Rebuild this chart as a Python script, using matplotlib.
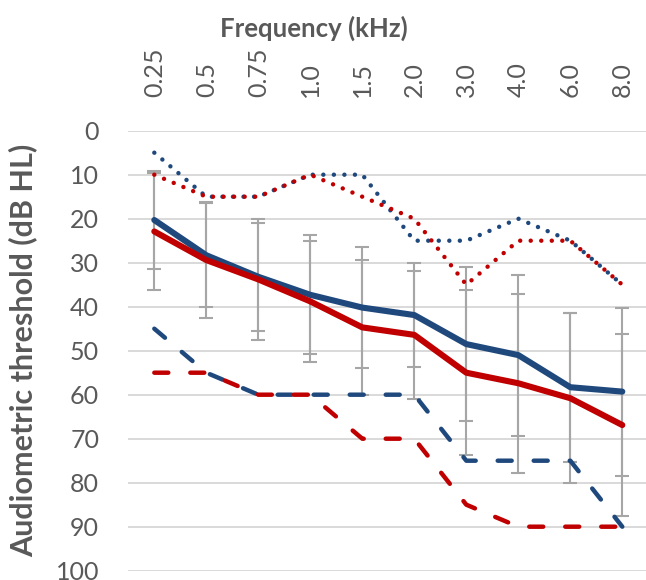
import matplotlib
matplotlib.use("Agg")
import matplotlib.pyplot as plt
import numpy as np

plt.rcParams['font.family'] = ['Lato', 'DejaVu Sans']

freq_labels = ['0.25', '0.5', '0.75', '1.0', '1.5', '2.0', '3.0', '4.0', '6.0', '8.0']
blue_mean = [20.3, 28.3, 33.2, 37.3, 40.2, 41.9, 48.5, 51.0, 58.3, 59.3]
red_mean = [22.9, 29.4, 33.8, 38.8, 44.7, 46.4, 55.0, 57.4, 60.8, 66.9]
blue_sd = [11.2, 11.8, 12.3, 13.5, 13.7, 11.8, 17.5, 18.3, 16.9, 19.1]
red_sd = [13.3, 13.1, 13.7, 13.8, 15.3, 14.5, 18.8, 20.3, 19.3, 20.6]
blue_min = [5, 15, 15, 10, 10, 25, 25, 20, 25, 35]
red_min = [10, 15, 15, 10, 15, 20, 35, 25, 25, 35]
blue_max = [45, 55, 60, 60, 60, 60, 75, 75, 75, 90]
red_max = [55, 55, 60, 60, 70, 70, 85, 90, 90, 90]
y_ticks = [0, 10, 20, 30, 40, 50, 60, 70, 80, 90, 100]

BLUE = '#1F497D'
RED = '#C00000'
GRAY_ERR = '#A6A6A6'
TXT = '#595959'

fig = plt.figure(figsize=(6.46, 5.80), dpi=100)
ax = fig.add_axes([128.3 / 646, 1 - 570.7 / 580, 520 / 646, 440 / 580])

x = np.arange(len(freq_labels))

# error bars
for m, s in ((blue_mean, blue_sd), (red_mean, red_sd)):
    ax.errorbar(x, m, yerr=s, fmt='none', ecolor=GRAY_ERR, elinewidth=1.5,
                capsize=5, capthick=1.5, zorder=2)

# dashed (max)
for vals, c in ((blue_max, BLUE), (red_max, RED)):
    ax.plot(x, vals, color=c, lw=3.2, linestyle=(0, (3.15, 4.95)),
            dash_capstyle='round', solid_joinstyle='round', zorder=3)

# dotted (min)
for vals, c in ((blue_min, BLUE), (red_min, RED)):
    ax.plot(x, vals, color=c, lw=3.2, linestyle=(0, (0.01, 2.36)),
            dash_capstyle='round', zorder=3)

# solid (mean)
for vals, c in ((blue_mean, BLUE), (red_mean, RED)):
    ax.plot(x, vals, color=c, lw=4.4, solid_capstyle='round',
            solid_joinstyle='round', zorder=4)

ax.set_xlim(-0.5, len(freq_labels) - 0.5)
ax.set_ylim(100, 0)
ax.set_yticks(y_ticks)
ax.set_yticklabels([str(v) for v in y_ticks])
ax.xaxis.tick_top()
ax.set_xticks(x)
ax.set_xticklabels(freq_labels, rotation=90)
ax.tick_params(axis='x', length=0, pad=24, labelsize=18, labelcolor=TXT)
ax.tick_params(axis='y', length=0, pad=21, labelsize=18, labelcolor=TXT)
ax.yaxis.grid(True, color='#D9D9D9', lw=1.4)
ax.xaxis.grid(False)
ax.set_axisbelow(True)
for sp in ax.spines.values():
    sp.set_visible(False)

fig.text(314 / 646, 1 - 28 / 580, 'Frequency (kHz)', ha='center', va='center',
         fontsize=18.5, fontweight='bold', color=TXT)
fig.text(23 / 646, 1 - 350 / 580, 'Audiometric threshold (dB HL)', ha='center',
         va='center', rotation=90, fontsize=22, fontweight='bold', color=TXT)

fig.savefig('out.png', dpi=100)
